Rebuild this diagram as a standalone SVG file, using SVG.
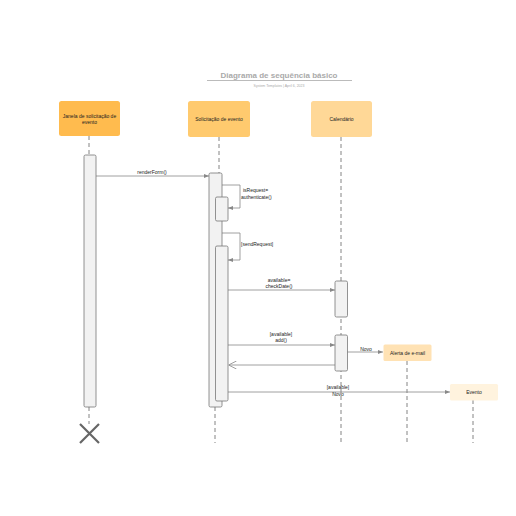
<svg xmlns="http://www.w3.org/2000/svg" width="516" height="516" viewBox="0 0 516 516">
<defs>
<style>
.t{font-family:"Liberation Sans",Arial,sans-serif;font-size:5px;fill:#222;text-anchor:middle}
.lbl{font-family:"Liberation Sans",Arial,sans-serif;font-size:5px;fill:#222}
.ll{stroke:#666;stroke-width:0.8;stroke-dasharray:4,3;fill:none}
.act{fill:#f2f2f2;stroke:#777;stroke-width:0.8}
.msg{stroke:#888;stroke-width:0.8;fill:none}
</style>
<marker id="ah" viewBox="0 0 10 10" refX="10" refY="5" markerWidth="5" markerHeight="5" orient="auto" markerUnits="userSpaceOnUse">
<path d="M0,1 L10,5 L0,9 z" fill="#888"/>
</marker>
<marker id="open" viewBox="0 0 10 10" refX="10" refY="5" markerWidth="8" markerHeight="8" orient="auto" markerUnits="userSpaceOnUse">
<path d="M0,0 L10,5 L0,10" fill="none" stroke="#888" stroke-width="1"/>
</marker>
</defs>
<rect width="516" height="516" fill="#fff"/>
<g id="title">
<text x="279" y="78" style="font-family:'Liberation Sans',Arial,sans-serif;font-size:8px;font-weight:bold;fill:#aaa;text-anchor:middle">Diagrama de sequência básico</text>
<line x1="207" y1="80.5" x2="352" y2="80.5" stroke="#aaa" stroke-width="0.8"/>
<text x="279" y="87" style="font-family:'Liberation Sans',Arial,sans-serif;font-size:3.5px;fill:#aaa;text-anchor:middle">System Templates  |  April 6, 2023</text>
</g>
<g id="connectors">
<line class="ll" x1="89" y1="136" x2="89" y2="155"/>
<line class="ll" x1="89" y1="407" x2="89" y2="424"/>
<line class="ll" x1="219" y1="137" x2="219" y2="173"/>
<line class="ll" x1="215" y1="407" x2="215" y2="443"/>
<line class="ll" x1="341" y1="137" x2="341" y2="443"/>
<line class="ll" x1="407" y1="361" x2="407" y2="443"/>
<line class="ll" x1="473" y1="400" x2="473" y2="443"/>
<line class="msg" x1="96" y1="176" x2="209" y2="176" marker-end="url(#ah)"/>
<polyline class="msg" points="222,185 240,185 240,208 228,208" marker-end="url(#ah)"/>
<polyline class="msg" points="222,233 240,233 240,260 228,260" marker-end="url(#ah)"/>
<line class="msg" x1="228" y1="290" x2="335" y2="290" marker-end="url(#ah)"/>
<line class="msg" x1="228" y1="345" x2="335" y2="345" marker-end="url(#ah)"/>
<line class="msg" x1="347" y1="352" x2="383" y2="352" marker-end="url(#ah)"/>
<line class="msg" x1="335" y1="365" x2="228.5" y2="365" marker-end="url(#open)"/>
<line class="msg" x1="228" y1="392" x2="450" y2="392" marker-end="url(#ah)"/>
<text class="t" x="152" y="174">renderForm()</text>
<text class="lbl" x="243" y="192">isRequest=</text>
<text class="lbl" x="241" y="198.5">authenticate()</text>
<text class="lbl" x="241" y="245.5">[sendRequest]</text>
<text class="t" x="279" y="282">available=</text>
<text class="t" x="279" y="288">checkDate()</text>
<text class="t" x="281" y="335.5">[available]</text>
<text class="t" x="281" y="341.5">add()</text>
<text class="t" x="366" y="350.5">Novo</text>
<text class="t" x="338" y="389">[available]</text>
<text class="t" x="338" y="396">Novo</text>
</g>
<g id="n1">
<rect x="59" y="101" width="61" height="35" rx="2.5" fill="#ffbb4e"/>
<text class="t" x="89.5" y="117.5">Janela de solicitação de</text>
<text class="t" x="89.5" y="123.5">evento</text>
<rect class="act" x="84" y="155" width="12" height="252" rx="1.5"/>
<path d="M80,424 L99,443 M99,424 L80,443" stroke="#666" stroke-width="2.2"/>
</g>
<g id="n2">
<rect x="188" y="101" width="62" height="36" rx="2.5" fill="#ffca6e"/>
<text class="t" x="219" y="120.5">Solicitação de evento</text>
<rect class="act" x="209" y="173" width="13" height="234" rx="1.5"/>
<rect class="act" x="215.5" y="197" width="12.5" height="24" rx="1.5"/>
<rect class="act" x="215.5" y="246" width="12.5" height="155" rx="1.5"/>
</g>
<g id="n3">
<rect x="311" y="101" width="61" height="36" rx="2.5" fill="#ffd897"/>
<text class="t" x="341.5" y="120.5">Calendário</text>
<rect class="act" x="335" y="281" width="12.5" height="36" rx="1.5"/>
<rect class="act" x="335" y="335" width="12.5" height="36" rx="1.5"/>
</g>
<g id="n4">
<rect x="383.5" y="344.5" width="48" height="16.5" rx="1.5" fill="#ffe2b4"/>
<text class="t" x="407.5" y="354.5">Alerta de e-mail</text>
</g>
<g id="n5">
<rect x="450" y="384" width="48" height="16.5" rx="1.5" fill="#fff3de"/>
<text class="t" x="474" y="394">Evento</text>
</g>
</svg>
